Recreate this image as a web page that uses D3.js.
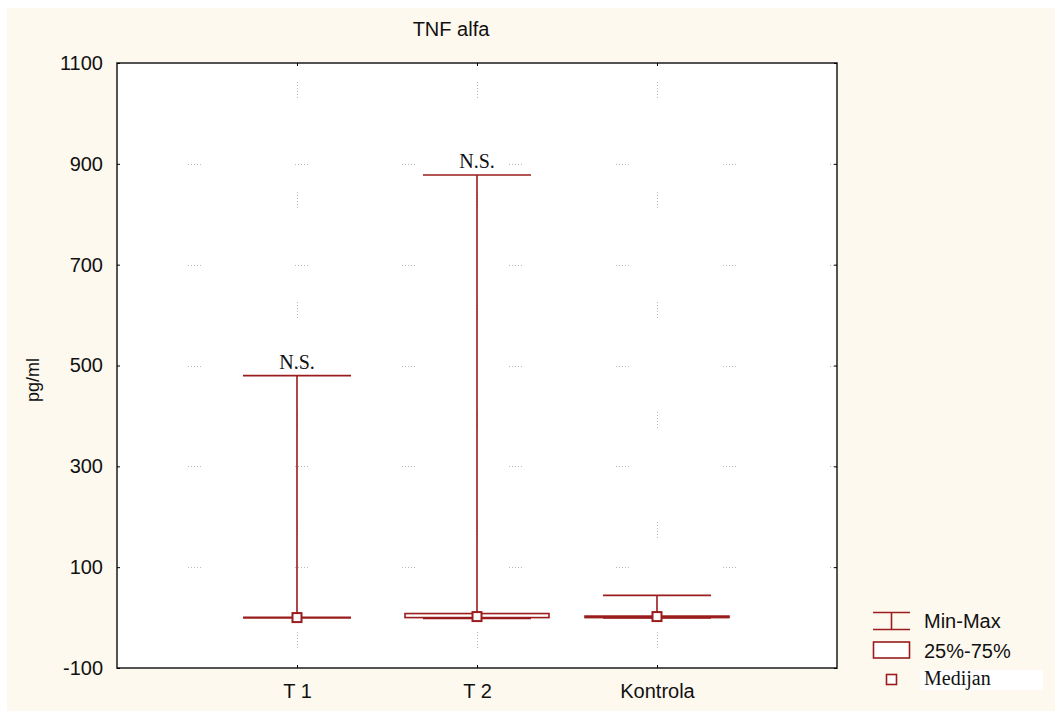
<!DOCTYPE html>
<html>
<head>
<meta charset="utf-8">
<script src="https://cdn.jsdelivr.net/npm/d3@7"></script>
<style>
  html, body { margin: 0; padding: 0; background: #ffffff; }
  svg { display: block; }
</style>
</head>
<body>
<svg id="chart" width="1055" height="711"></svg>
<script>
// ---- data ----
const categories = ["T 1", "T 2", "Kontrola"];
const minValues    = [0, -1, 0];
const q1Values     = [0, 0, 0];
const medianValues = [0, 2, 2];
const q3Values     = [0, 8, 3];
const maxValues    = [480, 878, 44];
const annotations  = ["N.S.", "N.S.", ""];
const yTicks = [-100, 100, 300, 500, 700, 900, 1100];
const gridTicks = [100, 300, 500, 700, 900];
const legendLabels = ["Min-Max", "25%-75%", "Medijan"];
const titleText = "TNF alfa";
const yLabel = "pg/ml";

// ---- layout ----
const W = 1055, H = 711;
const plot = { x0: 117, x1: 837, y0: 63, y1: 668 };
const red = "#9a1c1c";
const svg = d3.select("#chart");

svg.append("rect").attr("x", 7).attr("y", 8).attr("width", W - 7).attr("height", H - 8)
  .attr("fill", "#fef9ee");

const x = d3.scalePoint().domain(categories).range([plot.x0, plot.x1]).padding(1);
const y = d3.scaleLinear().domain([-100, 1100]).range([plot.y1, plot.y0]);
const step = x.step();

// plot area
svg.append("rect").attr("x", plot.x0).attr("y", plot.y0)
  .attr("width", plot.x1 - plot.x0).attr("height", plot.y1 - plot.y0)
  .attr("fill", "#ffffff");

// grid (sparse dotted)
const grid = svg.append("g").attr("stroke", "#b8b8b8").attr("stroke-width", 1);
grid.selectAll("line.h").data(gridTicks).join("line")
  .attr("x1", plot.x0).attr("x2", plot.x1)
  .attr("y1", d => Math.round(y(d)) + 0.5).attr("y2", d => Math.round(y(d)) + 0.5)
  .attr("stroke-dasharray", "1,2,1,2,1,2,1,2,1,94")
  .attr("stroke-dashoffset", 36);
grid.selectAll("line.v").data(categories).join("line")
  .attr("x1", d => Math.round(x(d)) + 0.5).attr("x2", d => Math.round(x(d)) + 0.5)
  .attr("y1", plot.y0).attr("y2", plot.y1)
  .attr("stroke-dasharray", "1,2,1,2,1,2,1,2,1,2,1,94")
  .attr("stroke-dashoffset", 110 - 19);

// frame
svg.append("rect").attr("x", plot.x0).attr("y", plot.y0)
  .attr("width", plot.x1 - plot.x0).attr("height", plot.y1 - plot.y0)
  .attr("fill", "none").attr("stroke", "#2a2a2a").attr("stroke-width", 1.6);

// axes
const yAxis = svg.append("g").attr("transform", `translate(${plot.x0},0)`)
  .call(d3.axisLeft(y).tickValues(yTicks).tickSize(-3).tickPadding(14).tickFormat(d => String(d)));
yAxis.select(".domain").remove();
yAxis.selectAll("text").attr("font-family", "Arial, 'Liberation Sans', sans-serif")
  .attr("font-size", 20).attr("fill", "#111");
yAxis.selectAll("line").attr("stroke", "#000");

const yAxisR = svg.append("g").attr("transform", `translate(${plot.x1},0)`)
  .call(d3.axisRight(y).tickValues(yTicks).tickSize(-3).tickFormat(""));
yAxisR.select(".domain").remove();

const xAxis = svg.append("g").attr("transform", `translate(0,${plot.y1})`)
  .call(d3.axisBottom(x).tickSize(-3).tickPadding(16));
xAxis.select(".domain").remove();
xAxis.selectAll("text").attr("font-family", "Arial, 'Liberation Sans', sans-serif")
  .attr("font-size", 20).attr("fill", "#111");

const xAxisT = svg.append("g").attr("transform", `translate(0,${plot.y0})`)
  .call(d3.axisTop(x).tickSize(-3).tickFormat(""));
xAxisT.select(".domain").remove();

// title and y label
svg.append("text").attr("x", 451).attr("y", 36).attr("text-anchor", "middle")
  .attr("font-family", "Arial, 'Liberation Sans', sans-serif").attr("font-size", 20)
  .attr("fill", "#111").text(titleText);
svg.append("text").attr("transform", "translate(39,380) rotate(-90)")
  .attr("text-anchor", "middle")
  .attr("font-family", "Arial, 'Liberation Sans', sans-serif").attr("font-size", 18)
  .attr("fill", "#111").text(yLabel);

// boxes
const rows = categories.map((c, i) => ({
  c, min: minValues[i], q1: q1Values[i], med: medianValues[i], q3: q3Values[i],
  max: maxValues[i], note: annotations[i]
}));
const capW = step * 0.6, boxW = step * 0.8, medS = 9;
const g = svg.append("g").attr("stroke", red).attr("stroke-width", 1.6).attr("fill", "none");
rows.forEach(r => {
  const cx = x(r.c);
  g.append("line").attr("x1", cx).attr("x2", cx).attr("y1", y(r.max)).attr("y2", y(r.min));
  g.append("line").attr("x1", cx - capW / 2).attr("x2", cx + capW / 2).attr("y1", y(r.max)).attr("y2", y(r.max));
  g.append("line").attr("x1", cx - capW / 2).attr("x2", cx + capW / 2).attr("y1", y(r.min)).attr("y2", y(r.min))
    .attr("stroke-width", 2.2);
  g.append("rect").attr("x", cx - boxW / 2).attr("y", y(r.q3))
    .attr("width", boxW).attr("height", Math.max(0, y(r.q1) - y(r.q3))).attr("fill", "#fff");
  g.append("rect").attr("x", cx - medS / 2).attr("y", y(r.med) - medS / 2)
    .attr("width", medS).attr("height", medS).attr("fill", "#fff").attr("stroke-width", 2);
  if (r.note) {
    svg.append("text").attr("x", cx).attr("y", y(r.max) - 7).attr("text-anchor", "middle")
      .attr("font-family", "'Times New Roman', 'Liberation Serif', serif").attr("font-size", 20)
      .attr("fill", "#111").text(r.note);
  }
});

// legend
const lg = svg.append("g");
const lx = 873, lw = 37;
// Min-Max
lg.append("line").attr("x1", lx).attr("x2", lx + lw).attr("y1", 612.5).attr("y2", 612.5).attr("stroke", red).attr("stroke-width", 1.6);
lg.append("line").attr("x1", lx).attr("x2", lx + lw).attr("y1", 629.5).attr("y2", 629.5).attr("stroke", red).attr("stroke-width", 1.6);
lg.append("line").attr("x1", lx + lw / 2).attr("x2", lx + lw / 2).attr("y1", 612.5).attr("y2", 629.5).attr("stroke", red).attr("stroke-width", 1.6);
// 25-75
lg.append("rect").attr("x", lx + 0.5).attr("y", 642).attr("width", lw - 1).attr("height", 16)
  .attr("fill", "#fff").attr("stroke", red).attr("stroke-width", 1.6);
// median
lg.append("rect").attr("x", 886.5).attr("y", 674.5).attr("width", 10).attr("height", 10)
  .attr("fill", "#fff").attr("stroke", red).attr("stroke-width", 1.6);
lg.append("rect").attr("x", 920).attr("y", 670).attr("width", 123).attr("height", 20).attr("fill", "#fff");
const legY = [628, 658, 685];
legendLabels.forEach((t, i) => {
  lg.append("text").attr("x", 924).attr("y", legY[i])
    .attr("font-family", i === 2 ? "'Times New Roman', 'Liberation Serif', serif" : "Arial, 'Liberation Sans', sans-serif")
    .attr("font-size", 20).attr("fill", "#111").text(t);
});
</script>
</body>
</html>
